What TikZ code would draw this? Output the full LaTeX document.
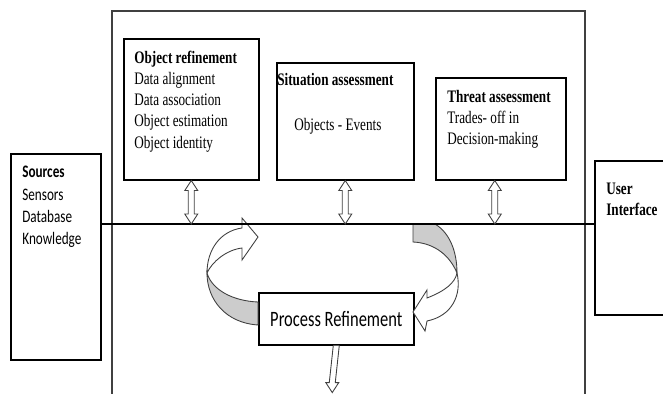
\documentclass[tikz,border=0pt]{standalone}
\usepackage{fontspec}
\setmainfont{Liberation Serif}[FakeStretch=0.75]
\newfontfamily\calfont{Carlito}[FakeStretch=0.75]
\usepackage{tikz}
\usepackage{xcolor}
\usetikzlibrary{calc}

% hollow arrow with a head at both ends, #1 top tip, #2 bottom tip
\newcommand{\twoway}[2]{%
	\draw[hollow] (#1) -- ++(6.5,10) -- ++(-3.5,0) -- ($(#2)+(3,-10)$) -- ++(3.5,0) -- (#2)
		-- ++(-6.5,-10) -- ++(3.5,0) -- ($(#1)+(-3,10)$) -- ++(-3.5,0) -- cycle;}
% hollow arrow pointing down, #1 start, #2 tip
\newcommand{\oneway}[2]{%
	\draw[hollow] ($(#1)+(-3,0)$) -- ($(#2)+(-3,-10)$) -- ++(-3.5,0) -- (#2)
		-- ++(6.5,-10) -- ++(-3.5,0) -- ($(#1)+(3,0)$);}

\begin{document}
\begin{tikzpicture}[x=0.02cm,y=-0.02cm,
		box/.style={draw,line width=0.9pt,anchor=north west,inner sep=0pt},
		txt/.style={anchor=north west,inner sep=0pt,align=left,font=\fontsize{10}{12}\selectfont},
		sans/.style={txt,font=\calfont\fontsize{10}{12.7}\selectfont},
		hollow/.style={draw=black!75,line width=0.5pt,fill=white},
		ribbon/.style={draw=black!75,line width=0.5pt}]
				\useasboundingbox (0,0) rectangle (663,394);
				\clip (0,0) rectangle (663,394);
				% outer frame
				\draw[line width=0.9pt,black!75] (112,430) -- (112,11) -- (585,11) -- (585,430);
				% boxes
				\node[box,minimum width=1.8cm,minimum height=4.12cm] (src) at (10,153) {};
				\node[sans] (srctxt) at ($(src.north west)+(12,13)$) {\textbf{Sources}\\Sensors\\Database\\Knowledge};
				\node[box,minimum width=2.7cm,minimum height=2.82cm] (obj) at (123,38) {};
				\node[txt] (objtxt) at ($(obj.north west)+(11,13)$) {\textbf{Object refinement}\\Data alignment\\Data association\\Object estimation\\Object identity};
				\node[box,minimum width=2.74cm,minimum height=2.34cm] (sit) at (276,62) {};
				\node[txt] (sittxt) at ($(sit.north west)+(1,11)$) {\textbf{Situation assessment}};
				\node[txt] (sitev) at ($(sit.north west)+(18,56)$) {Objects - Events};
				\node[box,minimum width=2.6cm,minimum height=2.04cm] (thr) at (435,77) {};
				\node[txt] (thrtxt) at ($(thr.north west)+(12,13)$) {\textbf{Threat assessment}\\Trades- off in\\Decision-making};
				\node[box,minimum width=2cm,minimum height=3.08cm] (ui) at (594,160) {};
				\node[txt] (uitxt) at ($(ui.north west)+(12,23)$) {\textbf{User}\\\textbf{Interface}};
				\node[box,minimum width=3.1cm,minimum height=1.04cm,font=\calfont\fontsize{12.5}{15}\selectfont] (proc) at (258,292) {Process Refinement};
				% curved arrows round the process box
				\draw[ribbon,fill=gray!40] (207,273) .. controls (207,300) and (226,323) .. (258,325) -- (258,302) .. controls (233,301) and (212,290) .. (207,273) -- cycle;
				\draw[ribbon,fill=white] (258,237) -- (242,218) -- (242,228) .. controls (220,231) and (207,250) .. (207,273) .. controls (212,262) and (226,250) .. (242,248) -- (242,260) -- cycle;
				\draw[ribbon,fill=gray!40] (413,224) -- (435,224) .. controls (450,233) and (457,252) .. (457,273) .. controls (450,256) and (435,243) .. (413,242) -- cycle;
				\draw[ribbon,fill=white] (413,312) -- (427,290) -- (427,298) .. controls (445,291) and (455,283) .. (457,273) .. controls (462,295) and (452,316) .. (427,321) -- (425,331) -- cycle;
				% common line
				\coordinate (bus) at (0,224);
				\draw[line width=1pt] (src.east |- bus) -- (ui.west |- bus);
				\coordinate (objbus) at (obj.south |- bus);
				\coordinate (sitbus) at (sit.south |- bus);
				\coordinate (thrtop) at ($(thr.south)+(-6,0)$);
				\coordinate (thrbus) at (thrtop |- bus);
				\twoway{obj.south}{objbus}
				\twoway{sit.south}{sitbus}
				\twoway{thrtop}{thrbus}
				\coordinate (out) at ($(proc.south)+(-4,47)$);
				\oneway{proc.south}{out}
			\end{tikzpicture}
\end{document}
